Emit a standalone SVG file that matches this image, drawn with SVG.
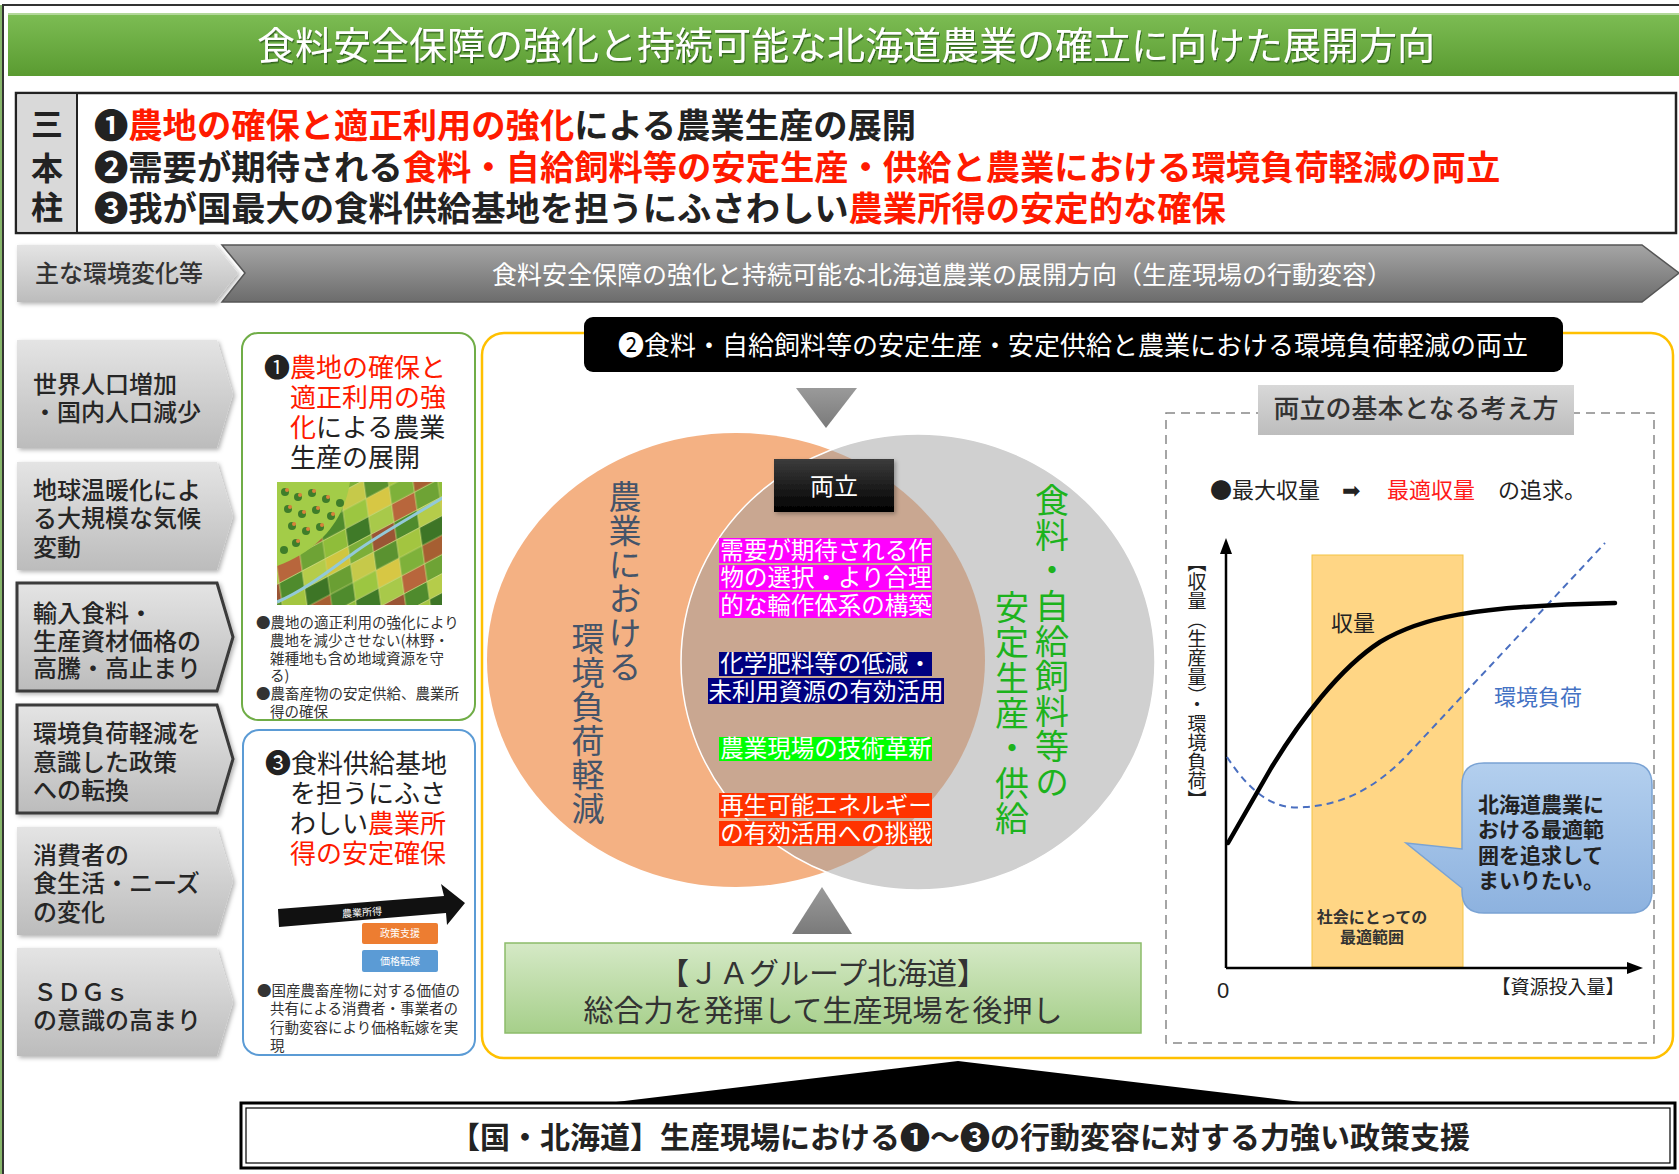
<svg xmlns="http://www.w3.org/2000/svg" width="1679" height="1174" viewBox="0 0 1679 1174">
<defs>
  <linearGradient id="gTitle" x1="0" y1="0" x2="0" y2="1">
    <stop offset="0" stop-color="#7dbd54"/><stop offset="1" stop-color="#5a9b31"/>
  </linearGradient>
  <linearGradient id="gChev" x1="0" y1="0" x2="0" y2="1">
    <stop offset="0" stop-color="#e4e4e4"/><stop offset="1" stop-color="#bcbcbc"/>
  </linearGradient>
  <linearGradient id="gDark" x1="0" y1="0" x2="0" y2="1">
    <stop offset="0" stop-color="#a5a5a5"/><stop offset="1" stop-color="#6c6c6c"/>
  </linearGradient>
  <linearGradient id="gTri" x1="0" y1="0" x2="0" y2="1">
    <stop offset="0" stop-color="#9a9a9a"/><stop offset="1" stop-color="#7a7a7a"/>
  </linearGradient>
  <linearGradient id="gJA" x1="0" y1="0" x2="0" y2="1">
    <stop offset="0" stop-color="#d5e9c6"/><stop offset="1" stop-color="#a6cf8a"/>
  </linearGradient>
  <linearGradient id="gLabel" x1="0" y1="0" x2="0" y2="1">
    <stop offset="0" stop-color="#d8d8d8"/><stop offset="1" stop-color="#bdbdbd"/>
  </linearGradient>
  <linearGradient id="gBubble" x1="0" y1="0" x2="0" y2="1">
    <stop offset="0" stop-color="#b3cfee"/><stop offset="1" stop-color="#8db2df"/>
  </linearGradient>
  <linearGradient id="gBlack" x1="0" y1="0" x2="0" y2="1">
    <stop offset="0" stop-color="#3c3c3c"/><stop offset="1" stop-color="#000"/>
  </linearGradient>
  <filter id="shadow" x="-10%" y="-10%" width="125%" height="130%">
    <feDropShadow dx="2" dy="2" stdDeviation="2" flood-color="#000" flood-opacity="0.3"/>
  </filter>
  <filter id="txtShadow" x="-5%" y="-20%" width="110%" height="150%">
    <feDropShadow dx="1" dy="1.5" stdDeviation="0.6" flood-color="#1e4a0c" flood-opacity="0.7"/>
  </filter>
  <clipPath id="clipFarm"><rect x="277" y="482" width="165" height="123"/></clipPath>
  <clipPath id="clipGray"><ellipse cx="918" cy="662" rx="237" ry="228"/></clipPath>
  <!-- patchwork of fields for the farmland illustration -->
  <pattern id="fields" width="130" height="68" patternUnits="userSpaceOnUse" patternTransform="rotate(-28) skewX(-20)">
    <g stroke="#c9d77a" stroke-width="0.6">
      <rect x="0" y="0" width="26" height="17" fill="#4f8b2d"/>
      <rect x="26" y="0" width="26" height="17" fill="#9cc641"/>
      <rect x="52" y="0" width="26" height="17" fill="#d7c744"/>
      <rect x="78" y="0" width="26" height="17" fill="#7eb13a"/>
      <rect x="104" y="0" width="26" height="17" fill="#a65f32"/>
      <rect x="0" y="17" width="26" height="17" fill="#8fbd3a"/>
      <rect x="26" y="17" width="26" height="17" fill="#3f7a28"/>
      <rect x="52" y="17" width="26" height="17" fill="#a8c94a"/>
      <rect x="78" y="17" width="26" height="17" fill="#b8663c"/>
      <rect x="104" y="17" width="26" height="17" fill="#6ea335"/>
      <rect x="0" y="34" width="26" height="17" fill="#d0c640"/>
      <rect x="26" y="34" width="26" height="17" fill="#7cae39"/>
      <rect x="52" y="34" width="26" height="17" fill="#9a5535"/>
      <rect x="78" y="34" width="26" height="17" fill="#4f8b2d"/>
      <rect x="104" y="34" width="26" height="17" fill="#b5cc4a"/>
      <rect x="0" y="51" width="26" height="17" fill="#6a9f33"/>
      <rect x="26" y="51" width="26" height="17" fill="#c6c94a"/>
      <rect x="52" y="51" width="26" height="17" fill="#5a9230"/>
      <rect x="78" y="51" width="26" height="17" fill="#a3c540"/>
      <rect x="104" y="51" width="26" height="17" fill="#3d7526"/>
    </g>
  </pattern>
  <style>
    text { font-family: "Noto Sans CJK JP", "Noto Sans", sans-serif; }
    .b { font-weight: bold; }
    .m { font-weight: 500; }
    .red { fill: #ff1a00; }
    .white { fill: #ffffff; }
    .chev { fill: url(#gChev); filter: url(#shadow); }
    .chevB { fill: url(#gChev); stroke: #3a3a3a; stroke-width: 3; filter: url(#shadow); }
    .item { font-size: 24px; font-weight: 500; fill: #262626; }
    .note { font-size: 14.5px; fill: #333; }
    .vert { writing-mode: vertical-rl; }
    .hl { font-size: 23.5px; fill: #ffffff; text-anchor: middle; }
  </style>
</defs>

<g fill="#222">
<!-- page frame -->
<rect x="0" y="0" width="1679" height="1174" fill="#ffffff"/>
<rect x="3" y="5" width="1690" height="1190" fill="none" stroke="#333" stroke-width="2"/>
<line x1="1" y1="5" x2="1" y2="1174" stroke="#5f9e3a" stroke-width="1.5"/>

<!-- title banner -->
<g id="title">
  <rect x="8" y="13" width="1671" height="63" fill="url(#gTitle)"/>
  <line x1="8" y1="14" x2="1679" y2="14" stroke="#b3d89a" stroke-width="2"/>
  <text x="846" y="59" font-size="38" text-anchor="middle" class="white" filter="url(#txtShadow)">食料安全保障の強化と持続可能な北海道農業の確立に向けた展開方向</text>
</g>

<!-- three pillars -->
<g id="pillars">
  <rect x="16" y="93" width="1660" height="140" fill="#fff" stroke="#222" stroke-width="2.5"/>
  <rect x="17.5" y="94.5" width="59" height="137" fill="#d9d9d9"/>
  <line x1="77" y1="93" x2="77" y2="233" stroke="#222" stroke-width="2"/>
  <text font-size="32" text-anchor="middle" class="b"><tspan x="47" y="136">三</tspan><tspan x="47" y="180">本</tspan><tspan x="47" y="219">柱</tspan></text>
  <text font-size="34.3" class="b">
    <tspan x="94" y="138">❶<tspan class="red">農地の確保と適正利用の強化</tspan>による農業生産の展開</tspan>
    <tspan x="94" y="180">❷需要が期待される<tspan class="red">食料・自給飼料等の安定生産・供給と農業における環境負荷軽減の両立</tspan></tspan>
    <tspan x="94" y="221">❸我が国最大の食料供給基地を担うにふさわしい<tspan class="red">農業所得の安定的な確保</tspan></tspan>
  </text>
</g>

<!-- section header row -->
<g id="header-env">
  <polygon points="17,245 215,245 238,273 215,302 17,302" class="chev"/>
  <text x="35" y="282" font-size="24" class="m" fill="#333">主な環境変化等</text>
</g>
<g id="header-direction">
  <polygon points="222,245 1642,245 1679,273 1642,302 222,302 245,273" fill="url(#gDark)" stroke="#555" stroke-width="1.5"/>
  <text x="942" y="284" font-size="25" text-anchor="middle" class="white">食料安全保障の強化と持続可能な北海道農業の展開方向（生産現場の行動変容）</text>
</g>

<!-- environmental changes -->
<g id="env-1">
  <polygon points="17,340 217,340 233,394 217,448 17,448" class="chev"/>
  <text class="item"><tspan x="33" y="393">世界人口増加</tspan><tspan x="33" y="421">・国内人口減少</tspan></text>
</g>
<g id="env-2">
  <polygon points="17,462 217,462 233,516 217,570 17,570" class="chev"/>
  <text class="item"><tspan x="33" y="499">地球温暖化によ</tspan><tspan x="33" y="527">る大規模な気候</tspan><tspan x="33" y="556">変動</tspan></text>
</g>
<g id="env-3">
  <polygon points="17,583 217,583 233,637 217,691 17,691" class="chevB"/>
  <text class="item"><tspan x="33" y="622">輸入食料・</tspan><tspan x="33" y="650">生産資材価格の</tspan><tspan x="33" y="677">高騰・高止まり</tspan></text>
</g>
<g id="env-4">
  <polygon points="17,705 217,705 233,759 217,813 17,813" class="chevB"/>
  <text class="item"><tspan x="33" y="742">環境負荷軽減を</tspan><tspan x="33" y="771">意識した政策</tspan><tspan x="33" y="799">への転換</tspan></text>
</g>
<g id="env-5">
  <polygon points="17,827 217,827 233,881 217,935 17,935" class="chev"/>
  <text class="item"><tspan x="33" y="864">消費者の</tspan><tspan x="33" y="892">食生活・ニーズ</tspan><tspan x="33" y="921">の変化</tspan></text>
</g>
<g id="env-6">
  <polygon points="17,948 217,948 233,1002 217,1056 17,1056" class="chev"/>
  <text class="item"><tspan x="33" y="1001">ＳＤＧｓ</tspan><tspan x="33" y="1029">の意識の高まり</tspan></text>
</g>

<!-- pillar 1 box -->
<g id="pillar-1">
  <rect x="242" y="333" width="233" height="387" rx="16" fill="#fff" stroke="#70ad47" stroke-width="2"/>
  <text font-size="26">
    <tspan x="264" y="377">❶<tspan class="red">農地の確保と</tspan></tspan>
    <tspan x="290" y="407" class="red">適正利用の強</tspan>
    <tspan x="290" y="437"><tspan class="red">化</tspan>による農業</tspan>
    <tspan x="290" y="467">生産の展開</tspan>
  </text>
  <g id="farm" clip-path="url(#clipFarm)">
    <rect x="277" y="482" width="165" height="123" fill="url(#fields)"/>
    <path d="M277,482 H350 C345,515 325,548 277,566 Z" fill="#a3cc48"/>
    <g fill="#3f7d2a">
      <circle cx="285" cy="492" r="4"/><circle cx="298" cy="497" r="4"/><circle cx="312" cy="493" r="4"/>
      <circle cx="326" cy="499" r="4"/><circle cx="288" cy="509" r="4"/><circle cx="302" cy="514" r="4"/>
      <circle cx="316" cy="510" r="4"/><circle cx="331" cy="516" r="4"/><circle cx="292" cy="526" r="4"/>
      <circle cx="306" cy="531" r="4"/><circle cx="320" cy="527" r="4"/><circle cx="296" cy="543" r="4"/>
      <circle cx="284" cy="550" r="4"/><circle cx="340" cy="503" r="4"/>
    </g>
    <g fill="#d9823b">
      <circle cx="287" cy="490" r="2"/><circle cx="300" cy="495" r="2"/><circle cx="314" cy="491" r="2"/>
      <circle cx="328" cy="497" r="2"/><circle cx="290" cy="507" r="2"/><circle cx="304" cy="512" r="2"/>
      <circle cx="318" cy="508" r="2"/><circle cx="333" cy="514" r="2"/><circle cx="294" cy="524" r="2"/>
      <circle cx="308" cy="529" r="2"/><circle cx="322" cy="525" r="2"/><circle cx="298" cy="541" r="2"/>
    </g>
    <path d="M277,602 C305,590 330,570 355,552 S415,515 444,497" fill="none" stroke="#93c9d9" stroke-width="3"/>
  </g>
  <text class="note">
    <tspan x="256" y="628">●農地の適正利用の強化により</tspan>
    <tspan x="270" y="646">農地を減少させない(林野・</tspan>
    <tspan x="270" y="664">雑種地も含め地域資源を守</tspan>
    <tspan x="270" y="681">る)</tspan>
    <tspan x="256" y="699">●農畜産物の安定供給、農業所</tspan>
    <tspan x="270" y="717">得の確保</tspan>
  </text>
</g>

<!-- pillar 3 box -->
<g id="pillar-3">
  <rect x="243" y="730" width="232" height="325" rx="16" fill="#fff" stroke="#5b9bd5" stroke-width="2"/>
  <text font-size="26">
    <tspan x="265" y="773">❸食料供給基地</tspan>
    <tspan x="290" y="803">を担うにふさ</tspan>
    <tspan x="290" y="833">わしい<tspan class="red">農業所</tspan></tspan>
    <tspan x="290" y="863" class="red">得の安定確保</tspan>
  </text>
  <polygon points="278,909 444,896 441,884 465,903 447,925 446,913 279,927" fill="#111"/>
  <text x="362" y="916" font-size="10" text-anchor="middle" class="white" transform="rotate(-4 362 913)">農業所得</text>
  <rect x="362" y="923" width="76" height="21" rx="2" fill="#ed7d31"/>
  <text x="400" y="937" font-size="10" text-anchor="middle" class="white">政策支援</text>
  <rect x="362" y="950" width="76" height="22" rx="2" fill="#5b9bd5"/>
  <text x="400" y="965" font-size="10" text-anchor="middle" class="white">価格転嫁</text>
  <text class="note">
    <tspan x="257" y="996">●国産農畜産物に対する価値の</tspan>
    <tspan x="270" y="1014">共有による消費者・事業者の</tspan>
    <tspan x="270" y="1033">行動変容により価格転嫁を実</tspan>
    <tspan x="270" y="1051">現</tspan>
  </text>
</g>

<!-- pillar 2 frame -->
<g id="pillar-2">
  <rect x="482" y="333" width="1191" height="725" rx="22" fill="#fff" stroke="#ffc000" stroke-width="2.5"/>
  <rect x="584" y="317" width="979" height="55" rx="9" fill="#000"/>
  <text x="1073" y="355" font-size="26" text-anchor="middle" class="white">❷食料・自給飼料等の安定生産・安定供給と農業における環境負荷軽減の両立</text>
</g>

<!-- venn diagram -->
<g id="venn">
  <ellipse cx="736" cy="660" rx="249" ry="227" fill="#f4b183"/>
  <ellipse cx="918" cy="662" rx="237" ry="228" fill="#d0d0d0"/>
  <ellipse cx="736" cy="660" rx="249" ry="227" fill="#c9a791" clip-path="url(#clipGray)"/>
  <ellipse cx="918" cy="662" rx="237" ry="228" fill="none" stroke="#fff" stroke-width="1.5"/>
  <text font-size="33" class="vert" fill="#44546a" letter-spacing="1"><tspan x="625" y="480">農業における</tspan><tspan x="588" y="622">環境負荷軽減</tspan></text>
  <text font-size="34" class="vert" fill="#1db31d" letter-spacing="1.2"><tspan x="1052" y="483">食料・自給飼料等の</tspan><tspan x="1012" y="590">安定生産・供給</tspan></text>
</g>
<g id="both">
  <rect x="774" y="459" width="120" height="53" fill="url(#gBlack)" filter="url(#shadow)"/>
  <text x="834" y="495" font-size="24" text-anchor="middle" class="white">両立</text>
</g>
<g id="measures">
  <rect x="719" y="538" width="213" height="25" fill="#ff00ff"/>
  <rect x="719" y="565" width="213" height="25" fill="#ff00ff"/>
  <rect x="719" y="592" width="213" height="26" fill="#ff00ff"/>
  <text class="hl"><tspan x="826" y="559">需要が期待される作</tspan><tspan x="826" y="586">物の選択・より合理</tspan><tspan x="826" y="614">的な輪作体系の構築</tspan></text>
  <rect x="719" y="652" width="213" height="24" fill="#000080"/>
  <rect x="708" y="678" width="236" height="26" fill="#000080"/>
  <text class="hl"><tspan x="826" y="672">化学肥料等の低減・</tspan><tspan x="826" y="700">未利用資源の有効活用</tspan></text>
  <rect x="719" y="737" width="213" height="24" fill="#00ff00"/>
  <text x="826" y="757" class="hl">農業現場の技術革新</text>
  <rect x="719" y="793" width="213" height="25" fill="#ff3300"/>
  <rect x="719" y="821" width="213" height="25" fill="#ff3300"/>
  <text class="hl"><tspan x="826" y="814">再生可能エネルギー</tspan><tspan x="826" y="842">の有効活用への挑戦</tspan></text>
</g>

<!-- JA group -->
<g id="ja-group">
  <rect x="505" y="943" width="636" height="90" fill="url(#gJA)" stroke="#8cbc6a" stroke-width="1.5"/>
  <text font-size="30" text-anchor="middle" fill="#333"><tspan x="823" y="984">【ＪＡグループ北海道】</tspan><tspan x="823" y="1021">総合力を発揮して生産現場を後押し</tspan></text>
</g>

<!-- basic concept panel -->
<g id="concept">
  <rect x="1166" y="413" width="488" height="630" fill="none" stroke="#888" stroke-width="1.5" stroke-dasharray="9,6"/>
  <rect x="1258" y="385" width="316" height="50" fill="url(#gLabel)"/>
  <text x="1416" y="418" font-size="26" text-anchor="middle" class="m" fill="#333">両立の基本となる考え方</text>
  <text y="498" font-size="22"><tspan x="1210">●最大収量</tspan><tspan x="1342" style="font-family:'DejaVu Sans',sans-serif">➡</tspan><tspan x="1387" fill="#ff1a1a">最適収量</tspan><tspan x="1498">の追求。</tspan></text>
</g>
<g id="chart">
  <rect x="1312" y="555" width="151" height="412" fill="#ffd685" stroke="#f3c445" stroke-width="1"/>
  <line x1="1226" y1="968" x2="1226" y2="552" stroke="#000" stroke-width="2.5"/>
  <polygon points="1226,538 1220,554 1232,554" fill="#000"/>
  <line x1="1226" y1="968" x2="1628" y2="968" stroke="#000" stroke-width="2.5"/>
  <polygon points="1643,968 1627,962 1627,974" fill="#000"/>
  <path d="M1227,757 C1255,800 1280,810 1305,807 C1340,805 1375,790 1410,752 L1605,543" fill="none" stroke="#4a6fc0" stroke-width="2" stroke-dasharray="7,5"/>
  <path d="M1228,843 L1270,770 C1300,720 1340,668 1380,642 C1420,618 1470,606 1615,603" fill="none" stroke="#000" stroke-width="4.5" stroke-linecap="round"/>
  <text x="1353" y="631" font-size="22" text-anchor="middle">収量</text>
  <text x="1538" y="705" font-size="22" text-anchor="middle" fill="#4472c4">環境負荷</text>
  <text font-size="16" text-anchor="middle" class="b" fill="#333"><tspan x="1372" y="923">社会にとっての</tspan><tspan x="1372" y="943">最適範囲</tspan></text>
  <text x="1223" y="998" font-size="22" text-anchor="middle" style="font-family:'Liberation Sans',sans-serif">0</text>
  <text x="1558" y="994" font-size="19" text-anchor="middle">【資源投入量】</text>
  <text x="1197" y="553" font-size="19" class="vert">【収量（生産量）・環境負荷】</text>
</g>
<g id="callout">
  <path d="M1484,763 H1630 Q1652,763 1652,785 V891 Q1652,913 1630,913 H1484 Q1462,913 1462,891 V888 L1406,843 L1462,849 V785 Q1462,763 1484,763 Z" fill="url(#gBubble)" stroke="#7aa3d4" stroke-width="1.5"/>
  <text font-size="21" class="b">
    <tspan x="1478" y="812">北海道農業に</tspan>
    <tspan x="1478" y="837">おける最適範</tspan>
    <tspan x="1478" y="863">囲を追求して</tspan>
    <tspan x="1478" y="888">まいりたい。</tspan>
  </text>
</g>

<!-- arrows -->
<g id="connectors">
  <polygon points="796,388 857,388 826,428" fill="url(#gTri)"/>
  <polygon points="822,887 792,934 852,934" fill="url(#gTri)"/>
  <polygon points="958,1061 1301,1102 616,1102" fill="#000"/>
</g>

<!-- policy support -->
<g id="policy">
  <rect x="241" y="1103" width="1434" height="65" fill="#fff" stroke="#000" stroke-width="3"/>
  <rect x="246" y="1108" width="1424" height="55" fill="none" stroke="#000" stroke-width="1.2"/>
  <text x="960" y="1148" font-size="30" text-anchor="middle" class="b">【国・北海道】生産現場における❶～❸の行動変容に対する力強い政策支援</text>
</g>
</g>
</svg>
